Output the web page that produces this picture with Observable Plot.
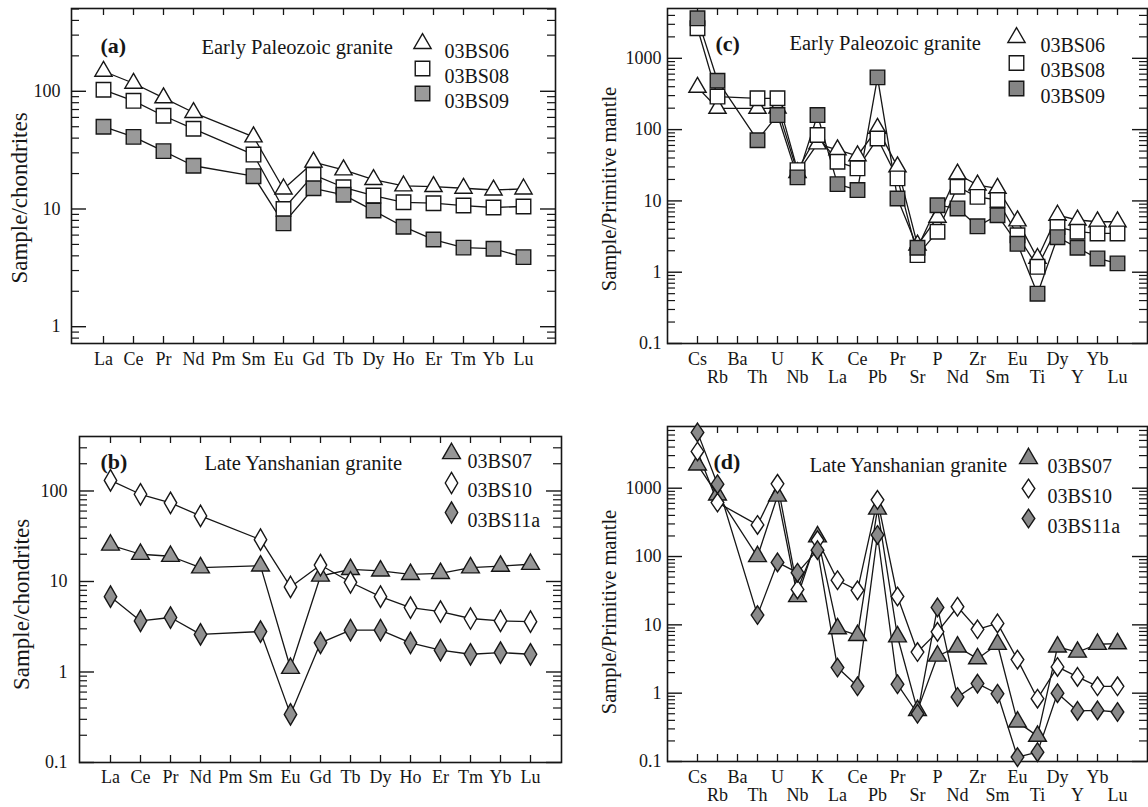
<!DOCTYPE html>
<html><head><meta charset="utf-8">
<script src="https://cdn.jsdelivr.net/npm/d3@7"></script>
<script src="https://cdn.jsdelivr.net/npm/@observablehq/plot@0.6"></script>
<style>
body{margin:0;background:#fff}
#wrap{position:relative;width:1148px;height:807px;overflow:hidden;background:#fff}
.p{position:absolute}
</style>
</head><body><div id="wrap"></div>
<script>
// ---------- DATA ----------
const reeElements = ["La","Ce","Pr","Nd","Pm","Sm","Eu","Gd","Tb","Dy","Ho","Er","Tm","Yb","Lu"];
const spiderElements = ["Cs","Rb","Ba","Th","U","Nb","K","La","Ce","Pb","Pr","Sr","P","Nd","Zr","Sm","Eu","Ti","Dy","Y","Yb","Lu"];

const earlySamples = ["03BS06","03BS08","03BS09"];
const lateSamples = ["03BS07","03BS10","03BS11a"];

// (a) chondrite-normalised REE, Early Paleozoic granite
const ree_03BS06 = [148,117,88,66,null,41,14.8,25,21.5,17.8,15.7,15.5,15,14.5,14.8];
const ree_03BS08 = [103,83,62,48,null,29,10,19.5,15.3,13,11.4,11.2,10.7,10.3,10.5];
const ree_03BS09 = [50,41,31,23.3,null,19,7.55,15,13.2,9.7,7.07,5.5,4.7,4.6,3.9];

// (b) chondrite-normalised REE, Late Yanshanian granite
const ree_03BS07 = [25.3,20,19,14.2,null,14.9,1.1,11.5,13.6,13.1,12,12.3,14.2,14.8,15.5];
const ree_03BS10 = [131,92,74,53,null,29,8.7,15.2,9.8,6.8,5.15,4.65,3.9,3.67,3.6];
const ree_03BS11a = [6.8,3.67,4.0,2.6,null,2.8,0.34,2.1,2.9,2.9,2.1,1.74,1.57,1.64,1.57];

// (c) primitive-mantle-normalised, Early Paleozoic granite
const pm_03BS06 = [392,199,null,199,200,25,63,52,43,104,30,2.4,5.9,23.8,16.7,15,5.25,1.56,6.3,5.4,5.1,5.1];
const pm_03BS08 = [2640,290,null,275,275,27,84,35.4,28.6,75,20.7,1.74,3.7,15.8,11.4,10.3,3.3,1.19,4.3,3.7,3.5,3.5];
const pm_03BS09 = [3640,485,null,71,160,21.4,160,17.2,14.2,541,10.8,2.2,8.7,7.85,4.4,6.3,2.5,0.5,3.1,2.2,1.56,1.33];

// (d) primitive-mantle-normalised, Late Yanshanian granite
const pm_03BS07 = [2200,800,null,100,770,26,195,8.8,7.0,497,6.7,0.56,3.5,4.75,3.2,5.2,0.38,0.235,4.75,4.0,5.2,5.3];
const pm_03BS10 = [3450,616,null,290,1160,33,174,45,32,675,26,4.0,7.9,18.4,8.6,10.5,3.1,0.83,2.42,1.73,1.26,1.26];
const pm_03BS11a = [6560,1145,null,13.9,82,58,124,2.37,1.26,207,1.35,0.5,18,0.88,1.38,0.98,0.116,0.137,1.0,0.55,0.56,0.53];

const yTicksA = [1,10,100];
const yTicksB = [0.1,1,10,100];
const yTicksCD = [0.1,1,10,100,1000];

const titleEarly = "Early Paleozoic granite";
const titleLate = "Late Yanshanian granite";
const labelChondrite = "Sample/chondrites";
const labelMantle = "Sample/Primitive mantle";

// ---------- RENDERING ----------
const ink = "#161616";
const font = "'Liberation Serif', 'Times New Roman', serif";

function tallDiamond(ratio, k) {
  return {draw(ctx, size) {
    const h = Math.sqrt(size / Math.PI) * k, w = h * ratio;
    ctx.moveTo(0, -h); ctx.lineTo(w, 0); ctx.lineTo(0, h); ctx.lineTo(-w, 0); ctx.closePath();
  }};
}

function panel(cfg) {
  const {cats, names, values, styles, yDomain, yTicks, width, height, ml, mr, mt, mb} = cfg;
  const fw = width - ml - mr, fh = height - mt - mb;
  const rows = [];
  names.forEach((name, si) => values[si].forEach((v, i) => {
    if (v != null) rows.push({series: name, el: cats[i], v});
  }));
  const [lo, hi] = yDomain;
  const minors = [];
  for (let k = Math.floor(Math.log10(lo)); k <= Math.ceil(Math.log10(hi)); k++)
    for (let m = 2; m <= 9; m++) { const t = m * Math.pow(10, k); if (t > lo * 1.0001 && t < hi) minors.push(t); }

  const txt = {fontFamily: font, fill: ink};
  const xAxes = cfg.twoRow
    ? [Plot.axisX({ticks: cats.filter((d, i) => i % 2 === 0), tickSize: 0, tickPadding: cfg.xPad, label: null, fontSize: 18, fontFamily: font}),
       Plot.axisX({ticks: cats.filter((d, i) => i % 2 === 1), tickSize: 0, tickPadding: cfg.xPad2, label: null, fontSize: 18, fontFamily: font})]
    : [Plot.axisX({ticks: cats, tickSize: 0, tickPadding: cfg.xPad, label: null, fontSize: 18, fontFamily: font})];

  const marks = [
    Plot.tickY(yTicks, {y: d => d, insetRight: fw - 15, stroke: ink, strokeWidth: 1.4}),
    Plot.tickY(yTicks, {y: d => d, insetLeft: fw - 15, stroke: ink, strokeWidth: 1.4}),
    Plot.tickY(minors, {y: d => d, insetRight: fw - 8, stroke: ink, strokeWidth: 1.2}),
    Plot.tickY(minors, {y: d => d, insetLeft: fw - 8, stroke: ink, strokeWidth: 1.2}),
    Plot.tickX(cats, {x: d => d, insetBottom: fh - 7, stroke: ink, strokeWidth: 1.3}),
    Plot.tickX(cats, {x: d => d, insetTop: fh - 7, stroke: ink, strokeWidth: 1.3}),
    Plot.frame({stroke: ink, strokeWidth: 1.6}),
    Plot.axisY({ticks: yTicks, tickSize: 0, tickPadding: cfg.yPad, tickFormat: d => String(d), label: null, fontSize: 18, fontFamily: font}),
    ...xAxes,
    ...names.map(n => Plot.line(rows.filter(r => r.series === n), {x: "el", y: "v", stroke: ink, strokeWidth: 1.3})),
    ...names.map((n, si) => Plot.dot(rows.filter(r => r.series === n), {
      x: "el", y: "v", symbol: styles[si].symbol, r: styles[si].r, fill: styles[si].fill, stroke: ink, strokeWidth: 1.4
    })),
    Plot.text([cfg.tag], {...txt, frameAnchor: "top-left", text: d => d, dx: cfg.tagPos[0], dy: cfg.tagPos[1], textAnchor: "start", fontSize: 22, fontWeight: "bold"}),
    Plot.text([cfg.title], {...txt, frameAnchor: "top-left", text: d => d, dx: cfg.titlePos[0], dy: cfg.titlePos[1], textAnchor: "start", fontSize: 20.5}),
    Plot.text([cfg.ylabel], {...txt, frameAnchor: "left", text: d => d, rotate: -90, textAnchor: "middle", dx: cfg.ylabPos[0], dy: cfg.ylabPos[1], fontSize: cfg.ylabSize}),
    ...names.map((n, si) => Plot.dot([n], {frameAnchor: "top-left", dx: cfg.legPos[0], dy: cfg.legPos[1] + si * cfg.legGap,
      symbol: styles[si].symbol, r: styles[si].r, fill: styles[si].fill, stroke: ink, strokeWidth: 1.4})),
    ...names.map((n, si) => Plot.text([n], {...txt, frameAnchor: "top-left", text: d => d, dx: cfg.legPos[0] + cfg.legTextOff, dy: cfg.legPos[1] + si * cfg.legGap,
      textAnchor: "start", fontSize: 20}))
  ];

  const svg = Plot.plot({
    width, height, marginLeft: ml, marginRight: mr, marginTop: mt, marginBottom: mb,
    style: {fontFamily: font, fontSize: "18px", background: "transparent", overflow: "visible", color: ink},
    x: {type: "point", domain: cats, padding: 1},
    y: {type: "log", domain: yDomain},
    marks
  });
  const div = document.createElement("div");
  div.className = "p";
  div.style.left = cfg.left + "px"; div.style.top = cfg.top + "px";
  div.style.width = width + "px"; div.style.height = height + "px";
  div.appendChild(svg);
  document.getElementById("wrap").appendChild(div);
}

const openTri = {symbol: "triangle", r: 6.4, fill: "white"};
const openSq = {symbol: "square", r: 8.2, fill: "white"};

// (a)
panel({
  cats: reeElements, names: earlySamples, values: [ree_03BS06, ree_03BS08, ree_03BS09],
  styles: [openTri, openSq, {symbol: "square", r: 8.2, fill: "#9a9a9a"}],
  yDomain: [0.72, 505], yTicks: yTicksA,
  left: 0, top: 0, width: 574, height: 400, ml: 71, mr: 19, mt: 8, mb: 57,
  yPad: 11, xPad: 9,
  tag: "(a)", tagPos: [29, 29], title: titleEarly, titlePos: [130, 31],
  ylabel: labelChondrite, ylabPos: [-52, 22], ylabSize: 23,
  legPos: [351, 35], legGap: 25, legTextOff: 22
});

// (b)
panel({
  cats: reeElements, names: lateSamples, values: [ree_03BS07, ree_03BS10, ree_03BS11a],
  styles: [{symbol: "triangle", r: 6.6, fill: "#969696"}, {symbol: tallDiamond(0.58, 1.65), r: 6.5, fill: "white"}, {symbol: tallDiamond(0.58, 1.65), r: 6.5, fill: "#909090"}],
  yDomain: [0.1, 400], yTicks: yTicksB,
  left: 0, top: 400, width: 574, height: 407, ml: 79, mr: 13, mt: 36, mb: 45,
  yPad: 12, xPad: 8,
  tag: "(b)", tagPos: [21, 17], title: titleLate, titlePos: [125, 19],
  ylabel: labelChondrite, ylabPos: [-58, 5], ylabSize: 23,
  legPos: [372, 17], legGap: 29.5, legTextOff: 16
});

// (c)
panel({
  cats: spiderElements, names: earlySamples, values: [pm_03BS06, pm_03BS08, pm_03BS09],
  styles: [openTri, openSq, {symbol: "square", r: 8.2, fill: "#858585"}],
  yDomain: [0.1, 5000], yTicks: yTicksCD, twoRow: true,
  left: 574, top: 0, width: 574, height: 400, ml: 93, mr: 1, mt: 8, mb: 57,
  yPad: 6, xPad: 9, xPad2: 27,
  tag: "(c)", tagPos: [48, 27], title: titleEarly, titlePos: [122, 27],
  ylabel: labelMantle, ylabPos: [-58, 13], ylabSize: 20.5,
  legPos: [349, 29], legGap: 25.5, legTextOff: 24
});

// (d)
panel({
  cats: spiderElements, names: lateSamples, values: [pm_03BS07, pm_03BS10, pm_03BS11a],
  styles: [{symbol: "triangle", r: 6.6, fill: "#8a8a8a"}, {symbol: tallDiamond(0.68, 1.5), r: 6.2, fill: "white"}, {symbol: tallDiamond(0.68, 1.5), r: 6.2, fill: "#8a8a8a"}],
  yDomain: [0.1, 8000], yTicks: yTicksCD, twoRow: true,
  left: 574, top: 400, width: 574, height: 407, ml: 93, mr: 1, mt: 26, mb: 46,
  yPad: 6, xPad: 9, xPad2: 27,
  tag: "(d)", tagPos: [46, 27], title: titleLate, titlePos: [142, 31],
  ylabel: labelMantle, ylabPos: [-58, 18], ylabSize: 20.5,
  legPos: [361, 32], legGap: 30, legTextOff: 19
});
</script>
</body></html>
